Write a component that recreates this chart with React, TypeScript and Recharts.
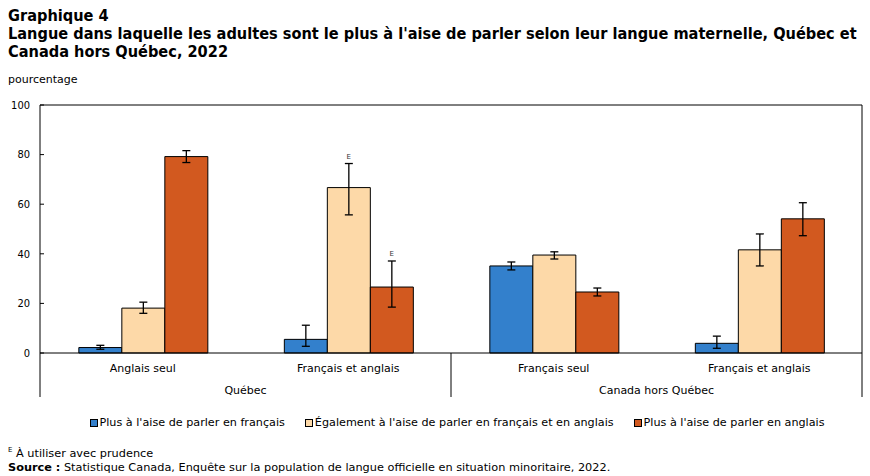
import { BarChart, Bar, XAxis, YAxis, ErrorBar, LabelList } from "recharts";

const categories = ["Anglais seul", "Français et anglais", "Français seul", "Français et anglais"];
const regions = ["Québec", "Québec", "Canada hors Québec", "Canada hors Québec"];

// pourcentage + intervalle de confiance (bas, haut)
const francais = [2.2, 5.5, 35.1, 3.9];
const francaisLow = [1.5, 2.7, 33.5, 1.9];
const francaisHigh = [3.1, 11.2, 36.7, 6.8];

const egal = [18.1, 66.7, 39.5, 41.6];
const egalLow = [16.0, 55.7, 37.9, 35.1];
const egalHigh = [20.5, 76.4, 40.8, 48.0];

const anglais = [79.2, 26.6, 24.6, 54.1];
const anglaisLow = [76.8, 18.5, 23.0, 47.3];
const anglaisHigh = [81.6, 37.1, 26.2, 60.6];

// "E" = à utiliser avec prudence
const egalFlag = [false, true, false, false];
const anglaisFlag = [false, true, false, false];

const yTicks = [0, 20, 40, 60, 80, 100];

const series = [
  { key: "francais", name: "Plus à l'aise de parler en français", color: "#3380CC", vals: francais, lo: francaisLow, hi: francaisHigh, flag: [false, false, false, false] },
  { key: "egal", name: "Également à l'aise de parler en français et en anglais", color: "#FDD9A8", vals: egal, lo: egalLow, hi: egalHigh, flag: egalFlag },
  { key: "anglais", name: "Plus à l'aise de parler en anglais", color: "#D2591F", vals: anglais, lo: anglaisLow, hi: anglaisHigh, flag: anglaisFlag },
];

const data = categories.map((cat, i) => {
  const row: any = { cat, region: regions[i] };
  series.forEach((s) => {
    row[s.key] = s.vals[i];
    row[s.key + "Err"] = [s.vals[i] - s.lo[i], s.hi[i] - s.vals[i]];
  });
  return row;
});

const FONT = "'DejaVu Sans', sans-serif";
const TITLE_FONT = "'DejaVu Sans Condensed', 'DejaVu Sans', sans-serif";
const Y_TICK_MARGIN = 10;
const REGION_MARGIN = 32;

// label à gauche + petite graduation vers l'intérieur
const YTick = (props: any) => {
  const { x, y, payload } = props;
  const axisX = x + Y_TICK_MARGIN;
  return (
    <g>
      <text x={x} y={y} dy="0.35em" textAnchor="end" fontSize={11} fill="#000" fontFamily={TITLE_FONT}>
        {payload.value}
      </text>
      <line x1={axisX} x2={axisX + 4} y1={y} y2={y} stroke="#000" />
    </g>
  );
};

// libellé de région + séparateurs verticaux aux bords de la bande
const RegionTick = (props: any) => {
  const { x, y, payload, width, visibleTicksCount, index } = props;
  const half = width / visibleTicksCount / 2;
  const top = y - REGION_MARGIN - 1;
  return (
    <g>
      <text x={x} y={y} dy="0.71em" textAnchor="middle" fontSize={11} fill="#000" fontFamily={FONT}>
        {payload.value}
      </text>
      {index === 0 && <line x1={x - half} x2={x - half} y1={top} y2={top + 44} stroke="#000" />}
      <line x1={x + half} x2={x + half} y1={top} y2={top + 44} stroke="#000" />
    </g>
  );
};

function makeFlagLabel(s: (typeof series)[number]) {
  return (props: any) => {
    const { x, y, width, height, index } = props;
    if (!s.flag[index]) return null;
    const v = s.vals[index];
    const pxPerUnit = height / v;
    const yHigh = y - (s.hi[index] - v) * pxPerUnit;
    return (
      <text x={x + width / 2} y={yHigh - 5} textAnchor="middle" fontSize={7} fill="#333" fontFamily={FONT}>
        E
      </text>
    );
  };
}

export default function App() {
  return (
    <div style={{ position: "absolute", left: 0, top: 0, width: 870, height: 476, fontFamily: FONT, color: "#000", background: "#fff" }}>
      <div style={{ position: "absolute", left: 8, top: 7, fontFamily: TITLE_FONT, fontWeight: "bold", fontSize: 16.2, lineHeight: "18px", width: 862, whiteSpace: "nowrap" }}>
        Graphique 4
        <br />
        Langue dans laquelle les adultes sont le plus à l'aise de parler selon leur langue maternelle, Québec et
        <br />
        Canada hors Québec, 2022
      </div>
      <div style={{ position: "absolute", left: 8, top: 73, fontSize: 11 }}>pourcentage</div>

      <BarChart
        width={870}
        height={476}
        data={data}
        margin={{ top: 104, right: 7, left: 0, bottom: 121 }}
        barCategoryGap="18.9%"
        barGap={0}
        style={{ position: "absolute", left: 0, top: 0 }}
      >
        <XAxis
          dataKey="cat"
          height={1}
          stroke="#000"
          axisLine
          tickLine={false}
          tickSize={0}
          tickMargin={11}
          interval={0}
          tick={{ fontSize: 11, fill: "#000", fontFamily: FONT }}
        />
        <XAxis
          xAxisId="region"
          dataKey="region"
          allowDuplicatedCategory={false}
          height={1}
          axisLine={false}
          tickLine={false}
          tickSize={0}
          tickMargin={REGION_MARGIN}
          interval={0}
          tick={RegionTick}
        />
        <XAxis xAxisId="top" orientation="top" dataKey="cat" height={1} tick={false} tickLine={false} axisLine stroke="#000" />
        <YAxis
          domain={[0, 100]}
          ticks={yTicks}
          interval={0}
          width={40}
          stroke="#000"
          axisLine
          tickLine={false}
          tickSize={0}
          tickMargin={Y_TICK_MARGIN}
          tick={YTick}
        />
        <YAxis yAxisId="right" orientation="right" width={1} domain={[0, 100]} tick={false} tickLine={false} axisLine stroke="#000" />
        {series.map((s) => (
          <Bar key={s.key} dataKey={s.key} name={s.name} fill={s.color} stroke="#000" strokeWidth={1} isAnimationActive={false}>
            <ErrorBar dataKey={s.key + "Err"} direction="y" width={4} stroke="#000" strokeWidth={1.3} />
            <LabelList dataKey={s.key} content={makeFlagLabel(s)} />
          </Bar>
        ))}
      </BarChart>

      <div style={{ position: "absolute", left: 44, top: 416, width: 826, display: "flex", justifyContent: "center", gap: 20, fontSize: 11.2 }}>
        {series.map((s) => (
          <div key={s.key} style={{ display: "flex", alignItems: "center" }}>
            <span style={{ display: "inline-block", width: 6, height: 6, background: s.color, border: "1px solid #000", marginRight: 2 }} />
            <span>{s.name}</span>
          </div>
        ))}
      </div>

      <div style={{ position: "absolute", left: 8, top: 443, fontSize: 11.3, lineHeight: "14px" }}>
        <sup style={{ fontSize: 7 }}>E</sup> À utiliser avec prudence
        <br />
        <b>Source :</b> Statistique Canada, Enquête sur la population de langue officielle en situation minoritaire, 2022.
      </div>
    </div>
  );
}
